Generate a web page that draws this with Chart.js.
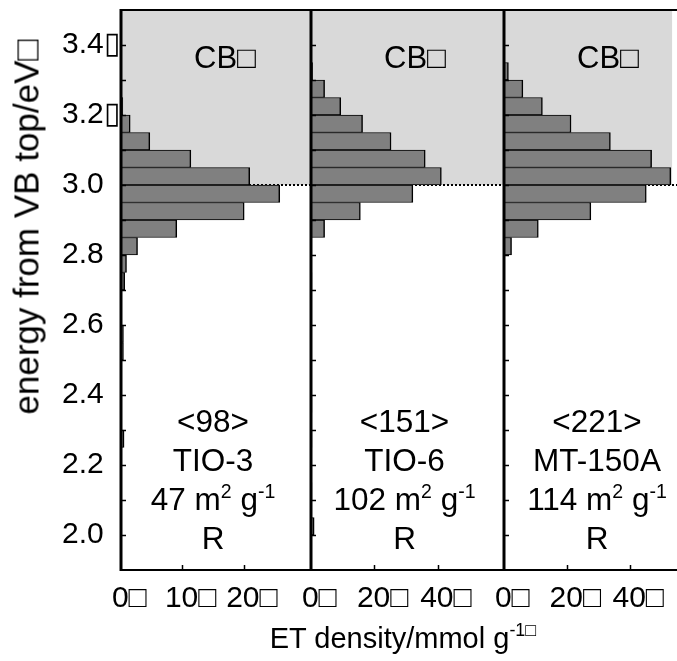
<!DOCTYPE html>
<html>
<head>
<meta charset="utf-8">
<script src="https://cdn.jsdelivr.net/npm/chart.js@4/dist/chart.umd.min.js"></script>
<style>
  html, body { margin: 0; padding: 0; background: #fff; overflow: hidden; }
  #fig { position: relative; width: 677px; height: 661px; overflow: hidden; background: #fff;
         font-family: "Liberation Sans", Arial, sans-serif; color: #000; }
  #fig canvas { position: absolute; top: 0; }
  .txt { position: absolute; white-space: nowrap; line-height: 1; z-index: 5; }
  .center { transform: translate(-50%, -50%); }
  .panelText { font-size: 31.5px; }
  .cb { font-size: 31px; transform: translate(0, -50%); }
  .yTitle { font-size: 35px; }
  .xTitle { font-size: 29px; }
  sup { font-size: 0.62em; vertical-align: 0.62em; line-height: 0; }
</style>
</head>
<body>
<div id="fig">
  <canvas id="panel0" width="312" height="661" style="left:0px"></canvas>
  <canvas id="panel1" width="204" height="661" style="left:301px"></canvas>
  <canvas id="panel2" width="204" height="661" style="left:494px"></canvas>
</div>
<script>
// Energy bins (eV from VB top), centres of 0.05 eV slices
const energyBins = [3.325, 3.275, 3.225, 3.175, 3.125, 3.075, 3.025, 2.975, 2.925, 2.875,
                    2.825, 2.775, 2.725, 2.675, 2.625, 2.575, 2.525, 2.475, 2.425, 2.375,
                    2.325, 2.275, 2.225, 2.175, 2.125, 2.075, 2.025, 1.975, 1.925];

// Electron-trap density per bin (umol g-1)
const densityTIO3   = [0, 0, 0.3, 1.5, 4.7, 11.4, 21.0, 25.9, 20.1, 9.1,
                       2.7, 0.9, 0.6, 0, 0, 0.4, 0.4, 0, 0, 0,
                       0, 0.5, 0, 0, 0, 0, 0, 0, 0];
const densityTIO6   = [0.5, 4.3, 9.4, 16.3, 25.3, 36.1, 41.2, 32.2, 15.6, 4.3,
                       0, 0, 0.3, 0, 0, 0, 0, 0, 0, 0.3,
                       0, 0.3, 0, 0, 0.3, 0, 1.0, 0, 0];
const densityMT150A = [1.4, 6.0, 12.2, 21.3, 33.8, 46.9, 53.0, 45.2, 27.6, 10.9,
                       2.4, 0, 0, 0, 0, 0, 0, 0, 0, 0,
                       0, 0, 0, 0, 0, 0, 0, 0, 0];

// Sample annotations
const sampleNames   = ['TIO-3', 'TIO-6', 'MT-150A'];
const crystallite   = ['<98>', '<151>', '<221>'];
const surfaceArea   = [47, 102, 114];
const crystalPhase  = ['R', 'R', 'R'];

// Energy axis
const energyRange       = [1.9, 3.5];
const energyMinorTicks  = [2.0, 2.1, 2.2, 2.3, 2.4, 2.5, 2.6, 2.7, 2.8, 2.9, 3.0, 3.1, 3.2, 3.3, 3.4];
const energyLabelValues = [2.0, 2.2, 2.4, 2.6, 2.8, 3.0, 3.2, 3.4];
const energyLabelText   = ['2.0', '2.2', '2.4', '2.6', '2.8', '3.0', '3.2\u25AF', '3.4\u25AF'];
const cbEdge = 3.0;

// Density axes
const densityMax        = [31, 61, 61];
const densityTicks      = [[0, 10, 20], [0, 20, 40], [0, 20, 40]];
const densityTickLabels = [['0\u25A1', '10\u25A1', '20\u25A1'],
                           ['0\u25A1', '20\u25A1', '40\u25A1'],
                           ['0\u25A1', '20\u25A1', '40\u25A1']];

const panelSeries = [densityTIO3, densityTIO6, densityMT150A];

// Canvas layout of the three side-by-side panels (shadeTo: where the CB box stops, in density units)
const panelBoxes = [
  { left: 0,   padLeft: 62, padRight: 1, yWidth: 59, showY: true,  shadeTo: null },
  { left: 301, padLeft: 10, padRight: 1, yWidth: 0,  showY: false, shadeTo: null },
  { left: 494, padLeft: 10, padRight: 2, yWidth: 0,  showY: false, shadeTo: 53.4 }
];

const FONT = '"Liberation Sans", Arial, sans-serif';
Chart.defaults.font.family = FONT;
Chart.defaults.color = '#000';

const near = (a, b) => Math.abs(a - b) < 1e-6;

// CB shading, 3.0 eV dotted line, frame and inward ticks
const panelDecor = {
  id: 'panelDecor',
  beforeDatasetsDraw(chart, args, opts) {
    const { ctx, chartArea: a, scales: { x, y } } = chart;
    const yTop = y.getPixelForValue(energyRange[1]);
    const yEdge = y.getPixelForValue(cbEdge);
    const xEnd = opts.shadeTo == null ? a.right : x.getPixelForValue(opts.shadeTo);
    ctx.save();
    ctx.fillStyle = '#d9d9d9';
    ctx.fillRect(a.left, yTop, xEnd - a.left, yEdge - yTop);
    ctx.strokeStyle = '#000';
    ctx.lineWidth = 2;
    ctx.setLineDash([2, 2]);
    ctx.beginPath();
    ctx.moveTo(a.left, yEdge);
    ctx.lineTo(a.right, yEdge);
    ctx.stroke();
    ctx.restore();
  },
  afterDatasetsDraw(chart, args, opts) {
    const { ctx, chartArea: a, scales: { x, y } } = chart;
    ctx.save();
    ctx.strokeStyle = '#000';
    ctx.lineCap = 'butt';
    // top and bottom edges
    ctx.lineWidth = 2;
    ctx.beginPath();
    ctx.moveTo(a.left, a.top); ctx.lineTo(a.right + 2, a.top);
    ctx.moveTo(a.left, a.bottom); ctx.lineTo(a.right + 2, a.bottom);
    ctx.stroke();
    // energy axis line
    ctx.lineWidth = 3;
    ctx.beginPath();
    ctx.moveTo(a.left, a.top - 1); ctx.lineTo(a.left, a.bottom + 1);
    ctx.stroke();
    // inward ticks
    ctx.lineWidth = 1.5;
    ctx.beginPath();
    energyMinorTicks.forEach(v => {
      const py = Math.round(y.getPixelForValue(v)) + 0.5;
      ctx.moveTo(a.left, py); ctx.lineTo(a.left + 5, py);
    });
    opts.xTicks.forEach(v => {
      if (v === 0) return;
      const px = Math.round(x.getPixelForValue(v)) + 0.5;
      ctx.moveTo(px, a.bottom); ctx.lineTo(px, a.bottom - 5);
    });
    ctx.stroke();
    ctx.restore();
  }
};

const charts = panelBoxes.map((box, i) => {
  const data = energyBins.map((e, k) => ({ x: panelSeries[i][k], y: e }));
  return new Chart(document.getElementById('panel' + i), {
    type: 'bar',
    data: {
      datasets: [{
        label: sampleNames[i],
        data,
        backgroundColor: '#808080',
        borderColor: '#000',
        borderWidth: { top: 1, bottom: 1, right: 1.5, left: 0 },
        borderSkipped: false,
        barPercentage: 1,
        categoryPercentage: 1
      }]
    },
    options: {
      indexAxis: 'y',
      responsive: false,
      animation: false,
      devicePixelRatio: 1,
      events: [],
      layout: { autoPadding: false, padding: { left: box.padLeft, right: box.padRight, top: 10, bottom: 0 } },
      plugins: {
        legend: { display: false },
        tooltip: { enabled: false },
        panelDecor: { xTicks: densityTicks[i], shadeTo: box.shadeTo }
      },
      scales: {
        x: {
          type: 'linear',
          min: 0,
          max: densityMax[i],
          grid: { display: false, drawTicks: false },
          border: { display: false },
          afterBuildTicks: s => { s.ticks = densityTicks[i].map(v => ({ value: v })); },
          afterFit: s => { s.height = 91; s.paddingLeft = 0; s.paddingRight = 0; },
          ticks: {
            autoSkip: false,
            maxRotation: 0,
            padding: 11,
            font: { size: 30, family: FONT },
            callback: (v) => {
              const k = densityTicks[i].indexOf(v);
              return k < 0 ? '' : '\u2007' + densityTickLabels[i][k];
            }
          }
        },
        y: {
          type: 'linear',
          offset: false,
          min: energyRange[0],
          max: energyRange[1],
          grid: { display: false, drawTicks: false },
          border: { display: false },
          afterBuildTicks: s => { s.ticks = energyMinorTicks.map(v => ({ value: v })); },
          afterFit: s => { s.width = box.yWidth; s.paddingTop = 0; s.paddingBottom = 0; },
          ticks: {
            display: box.showY,
            autoSkip: false,
            crossAlign: 'far',
            font: { size: 30, family: FONT },
            callback: (v) => {
              const k = energyLabelValues.findIndex(e => near(e, v));
              return k < 0 ? '' : energyLabelText[k];
            }
          }
        }
      }
    },
    plugins: [panelDecor]
  });
});

// Text annotations placed from each panel's chart area
const fig = document.getElementById('fig');
function addText(html, cls, x, y, extra) {
  const d = document.createElement('div');
  d.className = 'txt ' + cls;
  d.innerHTML = html;
  d.style.left = x + 'px';
  d.style.top = y + 'px';
  if (extra) Object.assign(d.style, extra);
  fig.appendChild(d);
}
const esc = s => s.replace(/</g, '&lt;').replace(/>/g, '&gt;');
charts.forEach((ch, i) => {
  const a = ch.chartArea;
  const left = panelBoxes[i].left + a.left;
  const cx = panelBoxes[i].left + (a.left + a.right) / 2 - 3;
  addText('CB\u25A1', 'cb', left + 73, 57);
  addText(esc(crystallite[i]), 'panelText center', cx, 422);
  addText(sampleNames[i], 'panelText center', cx, 461);
  addText(surfaceArea[i] + ' m<sup>2</sup> g<sup>-1</sup>', 'panelText center', cx, 500);
  addText(crystalPhase[i], 'panelText center', cx, 539);
});
addText('energy from VB top/eV\u25A1', 'yTitle center', 26, 227, { transform: 'translate(-50%, -50%) rotate(-90deg)' });
addText('ET density/mmol g<sup>-1\u25A1</sup>', 'xTitle center', 403, 638);
</script>
</body>
</html>
